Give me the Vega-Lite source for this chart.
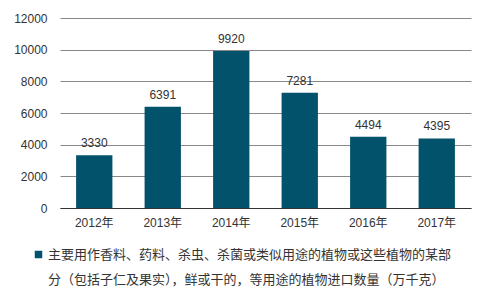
{
  "$schema": "https://vega.github.io/schema/vega-lite/v6.json",
  "width": 411,
  "height": 190,
  "autosize": {"type": "none"},
  "padding": {"left": 60, "top": 18, "right": 16, "bottom": 88},
  "background": "white",
  "data": {
    "values": [
      {"year": "2012年", "value": 3330, "series": "主要用作香料、药料、杀虫、杀菌或类似用途的植物或这些植物的某部|分（包括子仁及果实），鲜或干的，等用途的植物进口数量（万千克）"},
      {"year": "2013年", "value": 6391, "series": "主要用作香料、药料、杀虫、杀菌或类似用途的植物或这些植物的某部|分（包括子仁及果实），鲜或干的，等用途的植物进口数量（万千克）"},
      {"year": "2014年", "value": 9920, "series": "主要用作香料、药料、杀虫、杀菌或类似用途的植物或这些植物的某部|分（包括子仁及果实），鲜或干的，等用途的植物进口数量（万千克）"},
      {"year": "2015年", "value": 7281, "series": "主要用作香料、药料、杀虫、杀菌或类似用途的植物或这些植物的某部|分（包括子仁及果实），鲜或干的，等用途的植物进口数量（万千克）"},
      {"year": "2016年", "value": 4494, "series": "主要用作香料、药料、杀虫、杀菌或类似用途的植物或这些植物的某部|分（包括子仁及果实），鲜或干的，等用途的植物进口数量（万千克）"},
      {"year": "2017年", "value": 4395, "series": "主要用作香料、药料、杀虫、杀菌或类似用途的植物或这些植物的某部|分（包括子仁及果实），鲜或干的，等用途的植物进口数量（万千克）"}
    ]
  },
  "encoding": {
    "x": {
      "field": "year", "type": "nominal", "title": null,
      "scale": {"paddingInner": 0.47, "paddingOuter": 0.235},
      "axis": {"labelAngle": 0, "ticks": false, "domainColor": "#333333", "labelPadding": 9, "labelFontSize": 12, "labelColor": "#333333", "grid": false}
    },
    "y": {
      "field": "value", "type": "quantitative", "title": null,
      "scale": {"domain": [0, 12000], "nice": false},
      "axis": {"values": [0, 2000, 4000, 6000, 8000, 10000, 12000], "ticks": false, "domain": false, "labelPadding": 13, "labelFontSize": 12, "labelColor": "#333333", "gridColor": "#888888", "format": "d"}
    }
  },
  "layer": [
    {
      "mark": {"type": "bar", "color": "#02526C"},
      "encoding": {
        "color": {
          "field": "series", "type": "nominal",
          "scale": {"range": ["#02526C"]},
          "legend": {
            "orient": "none", "legendX": -28, "legendY": 230, "title": null,
            "symbolType": "square", "symbolSize": 56, "symbolStrokeWidth": 0,
            "labelFontSize": 13, "labelColor": "#333333", "labelLimit": 500,
            "labelOffset": 3,
            "labelExpr": "split(datum.label, '|')",
            "encode": {"labels": {"update": {"lineHeight": {"value": 25}}}}
          }
        }
      }
    },
    {
      "mark": {"type": "text", "baseline": "bottom", "dy": -5, "fontSize": 12, "color": "#333333"},
      "encoding": {"text": {"field": "value", "type": "quantitative", "format": "d"}}
    }
  ],
  "config": {
    "font": "Liberation Sans, Noto Sans CJK SC",
    "view": {"stroke": null},
    "axis": {"labelFont": "Liberation Sans, Noto Sans CJK SC"},
    "legend": {"labelFont": "Liberation Sans, Noto Sans CJK SC"}
  }
}
